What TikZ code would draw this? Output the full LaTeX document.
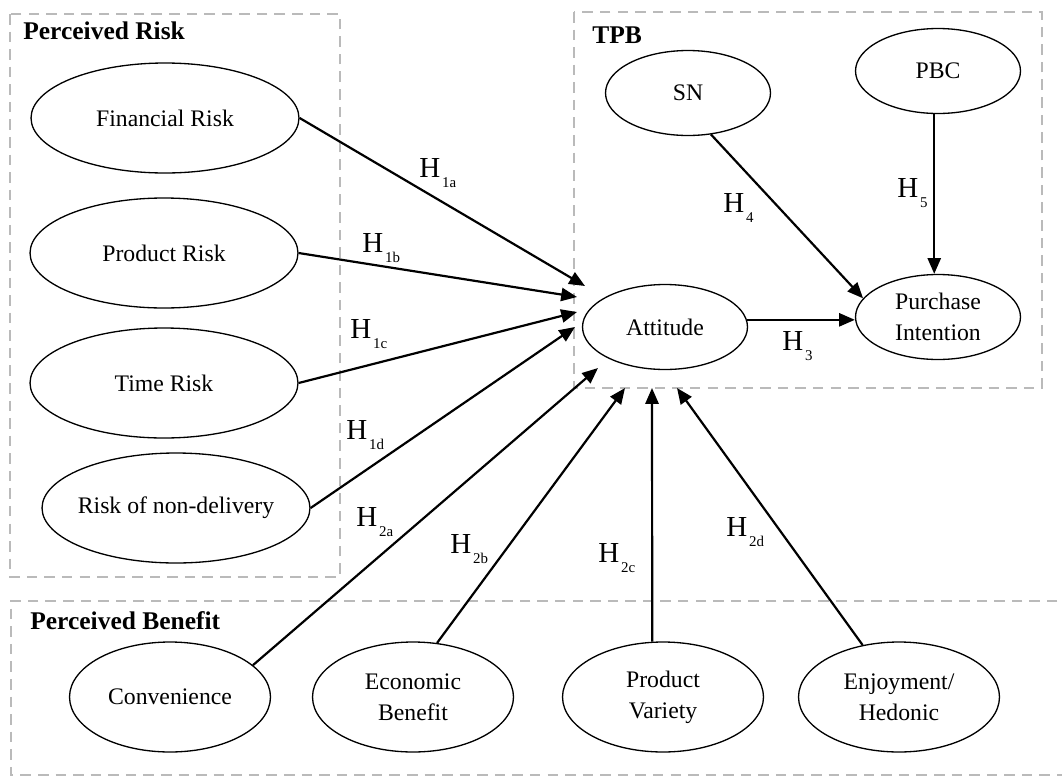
\documentclass[tikz,border=0pt]{standalone}
\usepackage{fontspec}
\setmainfont{Liberation Serif}
\usepackage{tikz}
\usetikzlibrary{arrows.meta,shapes.geometric}
\tikzstyle{ell}=[shape=ellipse,draw,line width=0.75pt,inner sep=0pt,align=center,font=\fontsize{13.5}{17.5}\selectfont]
\tikzstyle{rsk}=[minimum width=5.36cm,minimum height=2.2cm]
\tikzstyle{tpb}=[minimum width=3.3cm,minimum height=1.7cm]
\tikzstyle{ben}=[minimum width=4.02cm,minimum height=2.2cm]
\tikzstyle{arr}=[-{Triangle[length=9pt,width=7.5pt]},line width=1.25pt]
\tikzstyle{grp}=[draw=black!27,line width=1.6pt,dash pattern=on 6pt off 4pt]
\tikzstyle{ttl}=[anchor=base west,inner sep=0pt,font=\bfseries\fontsize{14.5}{16}\selectfont]
\tikzstyle{hyp}=[anchor=base west,inner sep=0pt,font=\fontsize{16.5}{18}\selectfont]
\newcommand{\hlab}[1]{H\kern1pt\raisebox{-6pt}{\fontsize{8.5}{9}\selectfont #1}}

\begin{document}
\begin{tikzpicture}[x=0.02cm,y=-0.02cm]
            \useasboundingbox (0,0) rectangle (1062,778);
            % groups
            \draw[grp] (10,14) rectangle (340,577);
            \draw[grp] (574,12) rectangle (1042,388);
            \draw[grp] (1075,601) -- (11,601) -- (11,775) -- (1075,775);
            \node[ttl] (prisk) at (23,39) {Perceived Risk};
            \node[ttl] (tpbt) at (592,43) {TPB};
            \node[ttl] (pben) at (30,629) {Perceived Benefit};
            % constructs
            \node[ell,rsk] (fr) at (165,118) {Financial Risk};
            \node[ell,rsk] (pr) at (164,253) {Product Risk};
            \node[ell,rsk] (tr) at (164,383) {Time Risk};
            \node[ell,rsk,inner xsep=-3pt] (nd) at (176,508) {Risk of non-delivery};
            \node[ell,tpb] (att) at (665,327) {Attitude};
            \node[ell,tpb] (sn) at (688,93) {SN};
            \node[ell,tpb] (pbc) at (938,71) {PBC};
            \node[ell,tpb] (pi) at (938,317) {Purchase\\Intention};
            \node[ell,ben] (conv) at (170,697) {Convenience};
            \node[ell,ben] (eco) at (413,697) {Economic\\Benefit};
            \node[ell,ben] (pv) at (663,697) {Product\\Variety};
            \node[ell,ben] (enj) at (899,697) {Enjoyment/\\Hedonic};
            % arrow tips round Attitude
            \coordinate (t1a) at (585,286);
            \coordinate (t1b) at (577,297);
            \coordinate (t1c) at (577,312);
            \coordinate (t1d) at (575,327);
            \coordinate (t2a) at (598,368);
            \coordinate (t2b) at (625,388);
            \coordinate (t2c) at (652,388);
            \coordinate (t2d) at (677,388);
            % paths
            \draw[arr] (fr.east) -- (t1a);
            \draw[arr] (pr.east) -- (t1b);
            \draw[arr] (tr.east) -- (t1c);
            \draw[arr] (nd.east) -- (t1d);
            \draw[arr] (conv.21) -- (t2a);
            \draw[arr] (eco.66) -- (t2b);
            \draw[arr] (pv.101) -- (t2c);
            \draw[arr] (enj.125) -- (t2d);
            \draw[arr] (att.5) -- (att.5 -| pi.west);
            \draw[arr] (sn.-61) -- (pi.166);
            \draw[arr] (pbc.-95) -- (pbc.-95 |- pi.north);
            % hypotheses
            \node[hyp] (h1a) at (419,177) {\hlab{1a}};
            \node[hyp] (h1b) at (362,252) {\hlab{1b}};
            \node[hyp] (h1c) at (350,338) {\hlab{1c}};
            \node[hyp] (h1d) at (346,439) {\hlab{1d}};
            \node[hyp] (h2a) at (356,526) {\hlab{2a}};
            \node[hyp] (h2b) at (450,553) {\hlab{2b}};
            \node[hyp] (h2c) at (598,562) {\hlab{2c}};
            \node[hyp] (h2d) at (726,536) {\hlab{2d}};
            \node[hyp] (h3) at (782,350) {\hlab{3}};
            \node[hyp] (h4) at (723,212) {\hlab{4}};
            \node[hyp] (h5) at (897,197) {\hlab{5}};
        \end{tikzpicture}
\end{document}
